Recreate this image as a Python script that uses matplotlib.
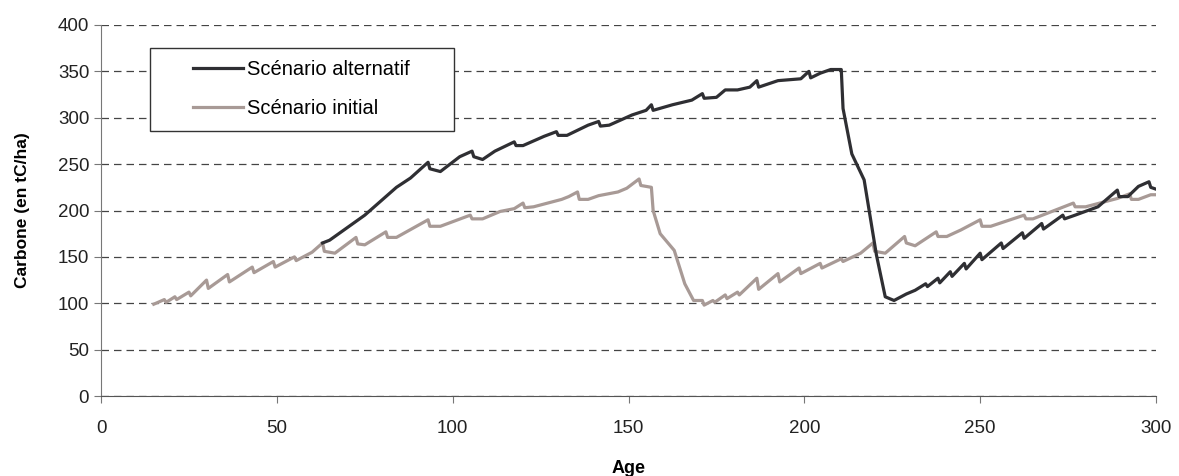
import matplotlib.pyplot as plt
from matplotlib.patches import Rectangle

# scenario initial (grey)
age_init = [15, 18, 18.5, 21, 21.5, 25, 25.5, 30, 30.5, 36, 36.5, 43, 43.5, 49, 49.5,
            55, 55.5, 60, 63, 63.5, 66.5, 72.5, 73, 75, 81, 81.5, 84, 93, 93.5, 96.5,
            105, 105.5, 108.5, 113.5, 117.5, 120, 120.5, 123, 128, 131, 133, 135.5, 136,
            138.5, 141.5, 147, 149.5, 153, 153.5, 156.5, 157, 159, 163, 166, 168.5, 171,
            171.5, 174, 174.5, 177.5, 178, 181, 181.5, 186.5, 187, 192.5, 193, 198.5, 199,
            204.5, 205, 210.5, 211, 216, 219.5, 220, 223, 228.5, 229, 231.5, 237.5, 238,
            240.5, 244.5, 250, 250.5, 253, 262.5, 263, 265, 276.5, 277, 280, 289, 292.5,
            293, 295, 298.5, 300]
carb_init = [99, 104, 101, 107, 104, 112, 108, 125, 116, 131, 123, 139, 133, 145, 139,
             150, 146, 155, 165, 156, 154, 171, 164, 163, 177, 171, 171, 190, 183, 183,
             195, 191, 191, 199, 202, 208, 203, 204, 209, 212, 215, 220, 212,
             212, 216, 220, 224, 234, 227, 225, 200, 175, 157, 121, 103, 103,
             98, 103, 101, 109, 105, 112, 109, 127, 115, 132, 123, 138, 132,
             143, 138, 148, 145, 154, 165, 156, 154, 172, 165, 162, 177, 172,
             172, 179, 190, 183, 183, 195, 191, 191, 208, 204, 204, 213, 218,
             212, 212, 217, 217]

# scenario alternatif (dark)
age_alt = [63, 65, 75, 84, 88, 93, 93.5, 96.5, 102, 105.5, 106, 108.5, 112, 117.5, 118,
           120, 126, 129.5, 130, 132.5, 138.5, 141.5, 142, 144.5, 151, 155, 156.5, 157,
           162.5, 168, 171, 171.5, 175, 177.5, 181, 184.5, 186.5, 187, 192.5, 199, 201.3,
           201.8, 204.5, 207.5, 210.5, 211, 213.5, 217, 220.5, 223, 225.5, 229, 231.5,
           234.5, 235, 238, 238.5, 241.5, 242, 245.5, 246, 250, 250.5, 256, 256.5, 262,
           262.5, 267.5, 268, 273.5, 274, 277, 283.5, 289, 289.5, 292, 295, 298, 298.5, 300]
carb_alt = [165, 168, 195, 225, 235, 252, 245, 242, 258, 264, 258, 255, 264, 274, 270,
            270, 280, 285, 281, 281, 292, 296, 291, 292, 303, 308, 314, 308,
            314, 319, 326, 321, 322, 330, 330, 333, 340, 333, 340, 342, 350,
            343, 348, 352, 352, 310, 261, 233, 152, 107, 103, 110, 114,
            121, 118, 127, 122, 134, 129, 143, 137, 154, 147, 165, 159, 176,
            170, 186, 180, 195, 191, 195, 204, 222, 215, 215, 226, 231, 225, 223]

plt.rcParams['font.family'] = ['Liberation Sans', 'DejaVu Sans']

fig = plt.figure(figsize=(11.79, 4.76), dpi=100)
ax = fig.add_axes([0.0857, 0.168, 0.8948, 0.7795])

ax.plot(age_alt, carb_alt, color='#2f2f33', lw=2.3, label='Scénario alternatif', zorder=4)
ax.plot(age_init, carb_init, color='#a89a96', lw=2.3, label='Scénario initial', zorder=3)

ax.set_xlim(0, 300)
ax.set_ylim(0, 400)
ax.set_xticks(range(0, 301, 50))
ax.set_yticks(range(0, 401, 50))
ax.tick_params(labelsize=13.5, colors='#222222', length=5, width=0.8)
ax.tick_params(axis='both', color='#777777')
ax.tick_params(axis='x', pad=12)

# dashed horizontal grid
ax.yaxis.grid(True, color='#444444', linestyle=(0, (6, 4)), lw=0.9)
ax.set_axisbelow(True)
for s in ['top', 'right']:
    ax.spines[s].set_visible(False)
ax.spines['left'].set_color('#777777')
ax.spines['bottom'].set_color('#555555')

ax.set_xlabel('Age', fontsize=13, fontweight='bold', labelpad=17)
ax.set_ylabel('Carbone (en tC/ha)', fontsize=12.5, fontweight='bold', labelpad=20)

# legend box drawn by hand, legend text inside
box = Rectangle((0.046, 0.714), 0.289, 0.224, transform=ax.transAxes,
                facecolor='white', edgecolor='#333333', lw=1, zorder=5)
ax.add_patch(box)
ax.legend(loc='upper left', bbox_to_anchor=(0.087, 0.905), frameon=False,
          borderpad=0, borderaxespad=0, fontsize=14.5, handlelength=2.5,
          handletextpad=0.2, labelspacing=0.98).set_zorder(6)

fig.savefig('out.png', dpi=100)
